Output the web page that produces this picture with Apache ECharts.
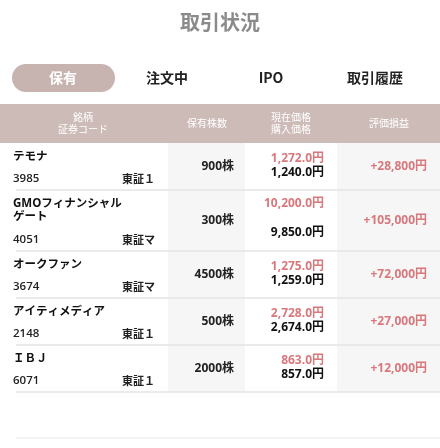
<!DOCTYPE html><html><head><meta charset="utf-8"><script src="https://cdn.jsdelivr.net/npm/echarts@6/dist/echarts.min.js"></script>
<style>html,body{margin:0;padding:0;background:#fff}#c{width:440px;height:448px}</style></head><body><div id="c"></div><script>
const names=['テモナ','GMOフィナンシャル\nゲート','オークファン','アイティメディア','ＩＢＪ'];
const codes=['3985','4051','3674','2148','6071'];
const markets=['東証１','東証マ','東証マ','東証１','東証１'];
const shares=['900株','300株','4500株','500株','2000株'];
const currentPrices=['1,272.0円','10,200.0円','1,275.0円','2,728.0円','863.0円'];
const buyPrices=['1,240.0円','9,850.0円','1,259.0円','2,674.0円','857.0円'];
const profits=['+28,800円','+105,000円','+72,000円','+27,000円','+12,000円'];
const tabs=['保有','注文中','IPO','取引履歴'];
const headers=['銘柄\n証券コード','保有株数','現在価格\n購入価格','評価損益'];
const F='"Noto Sans CJK JP",sans-serif';
const N='"Open Sans","Noto Sans CJK JP",sans-serif';
const rowTops=[143,190,251,298,345,392];
const g=[];
const red='#d9787c';
g.push({type:'text',x:220,y:22,style:{text:'取引状況',font:'bold 20px '+F,fill:'#8a8a8a',align:'center',verticalAlign:'middle'}});
g.push({type:'rect',shape:{x:12,y:64,width:103,height:28,r:14},style:{fill:'#c7b3b0'}});
const tabX=[63,167,271,375];
tabs.forEach((t,i)=>g.push({type:'text',x:tabX[i],y:78,style:{text:t,font:'bold 14px '+F,fill:i==0?'#fff':'#222',align:'center',verticalAlign:'middle'}}));
g.push({type:'rect',shape:{x:0,y:104,width:440,height:39},style:{fill:'#cdbbb8'}});
const hx=[83,207,291,389];
headers.forEach((h,i)=>g.push({type:'text',x:hx[i],y:123,style:{text:h,font:'10px '+F,fill:'#fff',align:'center',verticalAlign:'middle',lineHeight:12}}));
g.push({type:'rect',shape:{x:168,y:143,width:77,height:249},style:{fill:'#f6f6f6'}});
g.push({type:'rect',shape:{x:337,y:143,width:103,height:249},style:{fill:'#f6f6f6'}});
names.forEach((n,i)=>{
  const t=rowTops[i],b=rowTops[i+1],m=(t+b)/2;
  g.push({type:'text',x:13,y:t+7,style:{text:n,font:'bold 11.5px '+N,fill:'#111',lineHeight:13}});
  g.push({type:'text',x:13,y:b-11,style:{text:codes[i],font:'600 11.5px '+N,fill:'#222',verticalAlign:'middle'}});
  g.push({type:'text',x:122,y:b-11,style:{text:markets[i],font:'bold 11px '+F,fill:'#222',verticalAlign:'middle'}});
  g.push({type:'text',x:234,y:m,style:{text:shares[i],font:'bold 12px '+N,fill:'#222',align:'right',verticalAlign:'middle'}});
  const two=i==1;
  g.push({type:'text',x:324,y:two?t+14:m-8,style:{text:currentPrices[i],font:'bold 12px '+N,fill:red,align:'right',verticalAlign:'middle'}});
  g.push({type:'text',x:324,y:two?b-18:m+6,style:{text:buyPrices[i],font:'bold 12px '+N,fill:'#111',align:'right',verticalAlign:'middle'}});
  g.push({type:'text',x:427,y:m,style:{text:profits[i],font:'bold 12px '+N,fill:red,align:'right',verticalAlign:'middle'}});
  g.push({type:'line',shape:{x1:16,y1:b,x2:440,y2:b},style:{stroke:'#e4e4e4',lineWidth:1.5}});
});
g.push({type:'line',shape:{x1:16,y1:438,x2:440,y2:438},style:{stroke:'#e8e8e8',lineWidth:1}});
const ch=echarts.init(document.getElementById('c'));
ch.setOption({animation:false,graphic:{elements:g}});
</script></body></html>
